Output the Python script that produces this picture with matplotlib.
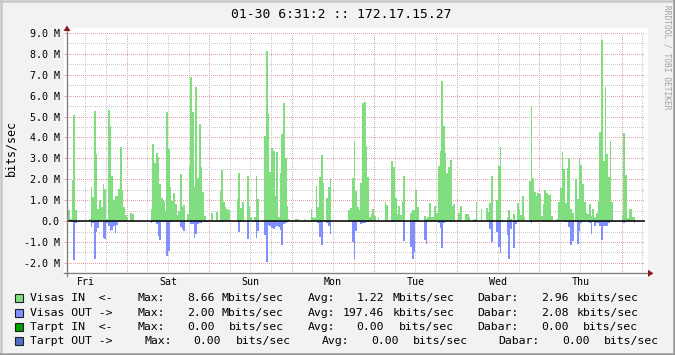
import matplotlib
matplotlib.use("Agg")
import matplotlib.pyplot as plt
import numpy as np
from matplotlib.lines import Line2D
from matplotlib.patches import Rectangle, Polygon

# ---------------- data ----------------
TITLE = "01-30 6:31:2 :: 172.17.15.27"
Y_LABEL = "bits/sec"
WATERMARK = "RRDTOOL / TOBI OETIKER"
DAY_LABELS = ["Fri", "Sat", "Sun", "Mon", "Tue", "Wed", "Thu"]
STEP_H = 0.5            # sample step, hours
START_H = 6.5           # first sample, hours after Fri 00:00

# Visas IN, Mbit/s (half-hour averages)
visas_in = [
    1.74, 0.54, 0.1, 1.97, 5.08, 0.54, 0, 0, 0, 0,
    0, 0, 0, 0.1, 1.62, 1.16, 5.27, 3.2, 0.59, 1.02,
    0.68, 1.78, 1.55, 0.1, 5.3, 4.55, 2.17, 1.02, 1.18, 1.2,
    1.55, 3.55, 1.5, 0.65, 0.27, 0.15, 0, 0.4, 0.35, 0,
    0, 0, 0, 0, 0, 0, 0, 0, 0, 0.59,
    3.7, 2.8, 3.26, 3.07, 1.78, 1.08, 0.97, 0.5, 5.22, 3.46,
    1.62, 0.97, 1.35, 0.84, 0.29, 0.5, 2.26, 0.65, 0.76, 0.05,
    0.35, 2.64, 6.9, 5.2, 1.65, 6.42, 2.04, 4.65, 2.6, 1.4,
    0.22, 0, 0.05, 0, 0.37, 0, 0, 0.41, 0, 1.42,
    2.45, 0.92, 0.65, 0.6, 0.54, 0, 0, 0, 0, 1.07,
    2.31, 0.64, 0.92, 0, 0, 2.17, 0.73, 0.18, 0, 0.2,
    2.17, 1.07, 0, 0, 0.05, 4.08, 8.14, 5.13, 2.37, 3.5,
    3.36, 1.21, 3.31, 0.2, 2.31, 4.17, 5.65, 3.0, 0.73, 0.1,
    0, 0, 0, 0.08, 0.08, 0, 0, 0, 0.08, 0,
    0, 0, 0.6, 0.2, 0.15, 1.69, 0.68, 2.12, 3.18, 1.83,
    0.05, 1.08, 1.64, 2.02, 0, 0, 0, 0, 0, 0,
    0, 0, 0, 0, 0.54, 0.64, 2.07, 3.79, 1.45, 0.68,
    0.54, 1.83, 5.65, 5.7, 3.6, 2.12, 0.2, 0.35, 0.57, 0.25,
    0, 0.2, 0, 0, 0, 0.92, 0.78, 0, 0, 2.88,
    2.6, 1.11, 0.35, 0.73, 0.3, 0.97, 2.17, 0, 0, 0,
    0.4, 0.54, 0.54, 1.5, 0.68, 0, 0, 0, 0.25, 0.1,
    0.2, 0.88, 0.2, 0.2, 0.73, 0.4, 2.64, 3.36, 6.7, 4.55,
    3.26, 2.31, 2.6, 2.9, 0.73, 0.83, 0, 0, 0.4, 0.73,
    0, 0, 0.35, 0.35, 0.18, 0, 0.05, 0.08, 0.92, 0,
    0, 0.59, 0.05, 0, 0.64, 0.45, 0.88, 2.17, 0.05, 0,
    1.02, 2.64, 3.55, 0.05, 0, 0, 0.2, 0.54, 0.1, 0,
    0.35, 0.05, 0.88, 0.59, 0.3, 1.21, 0.2, 0, 0, 1.93,
    5.51, 2.07, 1.4, 1.21, 1.35, 1.3, 0.25, 0.83, 1.5, 1.35,
    1.26, 1.3, 0.25, 0, 0, 0.1, 0.92, 1.59, 3.31, 2.5,
    0.88, 2.55, 3.03, 0.59, 0.4, 0.05, 2.02, 1.07, 2.98, 2.69,
    1.78, 0.92, 0.4, 0.35, 0.83, 0.25, 0.59, 0.18, 0.4, 0.97,
    4.27, 8.66, 2.88, 6.42, 3.22, 2.12, 3.84, 0.92, 0, 0,
    0, 0, 0, 0.3, 4.22, 2.21, 0.15, 0.59, 0.59, 0.18,
    0.18, 0, 0, 0, 0, 0,
]

# Visas OUT, Mbit/s (drawn below zero)
visas_out = [
    0.18, 0, 0, 0.06, 1.88, 0.1, 0, 0, 0, 0,
    0, 0, 0, 0, 0.29, 0.1, 1.83, 0.54, 0.33, 0.06,
    0, 0.81, 0.88, 0.1, 0.25, 0.49, 0.45, 0.24, 0.57, 0.2,
    0.05, 0, 0, 0, 0, 0, 0, 0, 0, 0,
    0, 0, 0, 0, 0, 0, 0, 0, 0, 0.11,
    0.05, 0.05, 0.14, 0.73, 0.9, 0.05, 0.05, 0.05, 1.69, 1.45,
    0.05, 0.05, 0, 0, 0, 0, 0.29, 0.37, 0.49, 0,
    0, 0.05, 0.14, 0.14, 0.81, 0.6, 0.14, 0.08, 0.08, 0.05,
    0.05, 0, 0, 0, 0, 0, 0, 0, 0, 0.06,
    0.06, 0, 0, 0, 0, 0, 0, 0, 0, 0,
    0.54, 0.05, 0, 0, 0, 0.88, 0.05, 0, 0, 0,
    0.83, 0.49, 0, 0, 0, 0.68, 1.97, 0.18, 0.24, 0.35,
    0.4, 0.29, 0.22, 0.29, 0.45, 1.16, 0.14, 0.1, 0.05, 0,
    0, 0, 0, 0, 0, 0, 0, 0, 0, 0,
    0, 0, 0, 0, 0, 0, 0.1, 0.78, 1.16, 0.05,
    0, 0.1, 0.25, 0.64, 0, 0, 0, 0, 0, 0,
    0, 0, 0, 0, 0, 0, 1.02, 1.83, 0.49, 0.06,
    0.06, 0.16, 0.11, 0.08, 0.05, 0.03, 0, 0, 0, 0,
    0, 0, 0, 0, 0, 0, 0, 0, 0, 0.06,
    0.06, 0, 0, 0, 0, 0, 0.97, 0, 0, 0,
    1.26, 1.83, 1.5, 0, 0, 0, 0, 0, 0.92, 1.11,
    0, 0, 0, 0, 0, 0, 0.1, 0.35, 1.31, 0.1,
    0.06, 0, 0, 0.06, 0, 0, 0, 0, 0, 0,
    0, 0, 0, 0, 0, 0, 0, 0, 0, 0,
    0, 0, 0, 0, 0, 0, 0.4, 1.02, 0, 0,
    0.54, 1.26, 1.54, 0.06, 0, 0, 0.68, 1.83, 0.4, 0.05,
    1.31, 0.16, 0.05, 0, 0, 0, 0, 0, 0, 0.05,
    0.1, 0, 0, 0, 0, 0, 0, 0, 0, 0,
    0, 0, 0, 0, 0, 0, 0, 0, 0, 0.05,
    0.05, 0.05, 0.3, 1.16, 0.97, 0.05, 0.05, 1.11, 0.49, 0.11,
    0.05, 0.05, 0, 0.05, 0.1, 0.64, 0.05, 0.25, 0.1, 0.1,
    0.25, 0.92, 0.25, 0.25, 0.25, 0.1, 0.06, 0.06, 0, 0,
    0, 0, 0, 0, 0.11, 0, 0, 0, 0, 0,
    0.11, 0, 0, 0, 0, 0,
]

y_ticks = [-2, -1, 0, 1, 2, 3, 4, 5, 6, 7, 8, 9]
y_tick_labels = ["-2.0 M", "-1.0 M", "0.0", "1.0 M", "2.0 M", "3.0 M",
                 "4.0 M", "5.0 M", "6.0 M", "7.0 M", "8.0 M", "9.0 M"]

legend_names = ["Visas IN  <-", "Visas OUT ->", "Tarpt IN  <-", "Tarpt OUT ->"]
legend_colors = ["#80DE80", "#8090FF", "#00A000", "#5070C8"]
max_vals = ["8.66", "2.00", "0.00", "0.00"]
max_units = ["Mbits/sec", "Mbits/sec", "bits/sec", "bits/sec"]
avg_vals = ["1.22", "197.46", "0.00", "0.00"]
avg_units = ["Mbits/sec", "kbits/sec", "bits/sec", "bits/sec"]
cur_vals = ["2.96", "2.08", "0.00", "0.00"]
cur_units = ["kbits/sec", "kbits/sec", "bits/sec", "bits/sec"]

# ---------------- layout ----------------
W, H = 675, 355
MONO = "DejaVu Sans Mono"
BG = "#f2f2f2"
MAJ = "#e4a0a0"
MIN = "#c8c8c8"

fig = plt.figure(figsize=(W / 100, H / 100), dpi=100, facecolor=BG)


def fx(x):
    return x / W


def fy(y):
    return 1 - y / H


# white canvas
fig.patches.append(Rectangle((fx(64), fy(276.5)), fx(648) - fx(64), fy(28) - fy(276.5),
                             transform=fig.transFigure, facecolor="white",
                             edgecolor="none", zorder=-5))
# frame shading
for (x0, y0, x1, y1, c) in [(0, 0.8, W, 0.8, "#c8c8c8"), (0.8, 0, 0.8, H, "#c8c8c8"),
                            (0, H - 1.2, W, H - 1.2, "#9a9a9a"), (W - 1.2, 0, W - 1.2, H, "#9a9a9a")]:
    fig.add_artist(Line2D([fx(x0), fx(x1)], [fy(y0), fy(y1)], transform=fig.transFigure,
                          color=c, lw=1.8))

L, R, T, B = 67, 645, 33, 273.3
ax = fig.add_axes([fx(L), fy(B), fx(R) - fx(L), fy(T) - fy(B)])
ax.set_zorder(1)
ax.set_facecolor("none")
for s in ax.spines.values():
    s.set_visible(False)

ax.set_xlim(6.63, 174.78)
ax.set_ylim(-2.5, 9.0)

# grid
dot = (0, (0.7, 1.3))
for h in np.arange(6, 175, 6):
    if 6.63 < h < 174.78:
        major = (h % 24 == 0)
        ax.axvline(h, color=MAJ if major else MIN, lw=0.72, ls=dot, zorder=0.5,
                   antialiased=False)
for v in np.arange(-2.5, 9.01, 0.5):
    major = float(v).is_integer()
    ax.axhline(v, color=MAJ if major else MIN, lw=0.72, ls=dot, zorder=0.5,
               antialiased=False)

n = len(visas_in)
xs = START_H + STEP_H * np.arange(n)
ax.bar(xs, visas_in, width=STEP_H, align="edge", color="#80DE80", lw=0, zorder=2)
ax.bar(xs[:len(visas_out)], -np.array(visas_out), width=STEP_H, align="edge",
       color="#8090FF", lw=0, zorder=2)
ax.axhline(0, color="black", lw=1.1, zorder=3)

# ticks
ax.set_yticks(y_ticks, y_tick_labels)
ax.tick_params(axis="y", length=2, width=0.72, color=MAJ, pad=3.4,
               labelsize=7.2, labelfontfamily=MONO)
noons = [12 + 24 * i for i in range(len(DAY_LABELS))]
ax.set_xticks(noons, DAY_LABELS)
ax.tick_params(axis="x", length=0, pad=2.8, labelsize=7.2, labelfontfamily=MONO)
for lab in ax.get_yticklabels() + ax.get_xticklabels():
    lab.set_fontfamily(MONO)

# axis lines and arrows
fig.add_artist(Line2D([fx(L), fx(L)], [fy(276), fy(30)], transform=fig.transFigure,
                      color="#808080", lw=1.0, zorder=5))
fig.add_artist(Line2D([fx(64), fx(649)], [fy(B), fy(B)], transform=fig.transFigure,
                      color="#808080", lw=1.0, zorder=5))
fig.add_artist(Polygon([[fx(L), fy(25.5)], [fx(L - 3.5), fy(31)], [fx(L + 3.5), fy(31)]],
                       closed=True, transform=fig.transFigure, color="#8b1a1a", lw=0, zorder=5))
fig.add_artist(Polygon([[fx(653.5), fy(B)], [fx(648), fy(B - 3.5)], [fx(648), fy(B + 3.5)]],
                       closed=True, transform=fig.transFigure, color="#8b1a1a", lw=0, zorder=5))

# title, unit label, watermark
fig.text(fx(341), fy(14), TITLE, ha="center", va="center", fontsize=9.4,
         family=MONO, color="black")
fig.text(fx(10.7), fy(148.3), Y_LABEL, ha="center", va="center", rotation=90,
         fontsize=8.4, family=MONO, color="black")
fig.text(fx(666.5), fy(5), WATERMARK, ha="center", va="top", rotation=270,
         fontsize=5.7, family=MONO, color="#a0a0a0")

# legend
row_y = [298.3, 312.7, 326.7, 340.7]
cols_a = dict(name=30, mx=137, mv=214.5, mu=283.5, av=307.3, avv=384, avu=454,
              cu=477.7, cuv=568.3, cuu=638)
cols_b = dict(name=30, mx=144.3, mv=221, mu=291, av=321.7, avv=398.3, avu=468,
              cu=498.3, cuv=589.3, cuu=658.7)
LF = 8.25
for i in range(4):
    y = row_y[i]
    c = cols_b if i == 3 else cols_a
    fig.patches.append(Rectangle((fx(15), fy(y + 4)), fx(8), 8 / H,
                                 transform=fig.transFigure, facecolor=legend_colors[i],
                                 edgecolor="#202020", lw=0.8, zorder=3))

    def t(x, s, ha="left"):
        fig.text(fx(x), fy(y), s, ha=ha, va="center", fontsize=LF, family=MONO,
                 color="black")

    t(c["name"], legend_names[i])
    t(c["mx"], "Max:")
    t(c["mv"], max_vals[i], "right")
    t(c["mu"], max_units[i], "right")
    t(c["av"], "Avg:")
    t(c["avv"], avg_vals[i], "right")
    t(c["avu"], avg_units[i], "right")
    t(c["cu"], "Dabar:")
    t(c["cuv"], cur_vals[i], "right")
    t(c["cuu"], cur_units[i], "right")

fig.savefig("out.png", dpi=100, facecolor=BG)
